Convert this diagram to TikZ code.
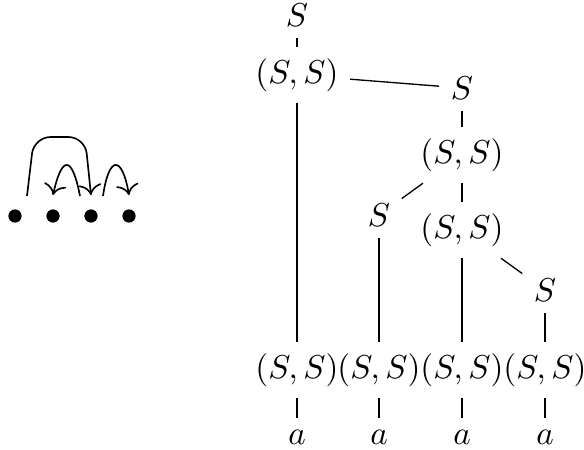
\documentclass[tikz,border=0pt]{standalone}
\usepackage{amsmath,amssymb}
\usetikzlibrary{calc,arrows.meta}

\begin{document}
\begin{tikzpicture}[x=0.010616cm, y=-0.010616cm]
        % picture measured in pixels, y grows downwards
        \useasboundingbox (0,0) rectangle (584,450);
        \def\yb{370}
        \def\ya{437}

        % Dots on the left
        \foreach \i/\x in {1/15,2/53,3/91,4/129}
            \node[circle, fill, inner sep=0pt, minimum size=4pt] (d\i) at (\x,216) {};

        % Arcs over the dots
        \coordinate (p1) at ($(d1)+(12,-20)$);
        \coordinate (p3) at ($(d3)+(0,-21)$);
        \coordinate (q2) at ($(d2)+(27,-20)$);
        \coordinate (p2) at ($(d2)+(0,-21)$);
        \coordinate (q3) at ($(d3)+(12,-20)$);
        \coordinate (p4) at ($(d4)+(0,-21)$);
        \begin{scope}[line width=0.5pt, -{To[scale=1.2]}]
        \draw[rounded corners=5pt] (p1) -- (34,137) -- (85,137) -- (p3);
        \draw (q2) .. controls (72,155) and (62,155) .. (p2);
        \draw (q3) .. controls (109,155) and (122,155) .. (p4);
        \end{scope}

        % Tree
        \node (S0) at (297,15) {$S$};
        \node (P0) at (297,75) {$(S,S)$};
        \node (S1) at (462,88) {$S$};
        \node (P1) at (462,155) {$(S,S)$};
        \node (S2) at (379,215) {$S$};
        \node (P2) at (462,230) {$(S,S)$};
        \node (S3) at (545,290) {$S$};
        \foreach \i/\x in {1/297,2/379,3/462,4/545} {
            \node (B\i) at (\x,\yb) {$(S,S)$};
            \node (a\i) at (\x,\ya) {$a$};
            \draw (B\i) -- (a\i);
        }

        \draw (S0) -- (P0);
        \draw (P0) -- (B1);
        \draw (P0) -- (S1);
        \draw (S1) -- (P1);
        \draw (P1) -- (S2);
        \draw (P1) -- (P2);
        \draw (S2) -- (B2);
        \draw (P2) -- (B3);
        \draw (P2) -- (S3);
        \draw (S3) -- (B4);
    \end{tikzpicture}
\end{document}
